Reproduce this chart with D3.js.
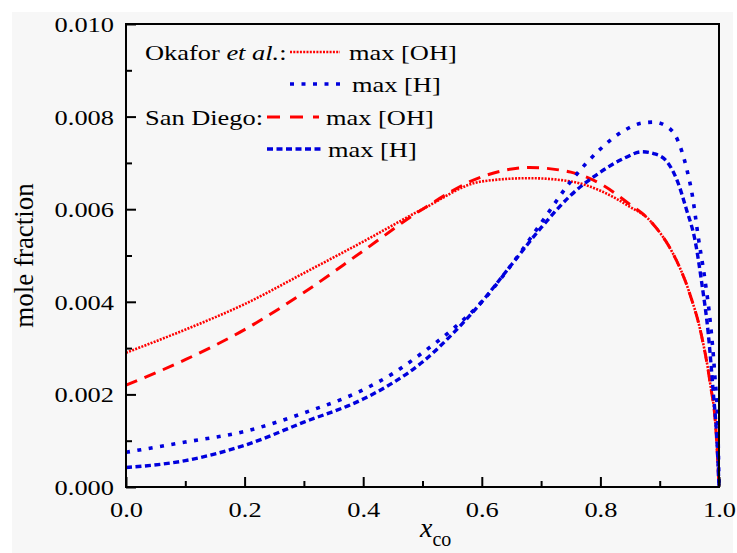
<!DOCTYPE html>
<html>
<head>
<meta charset="utf-8">
<script src="https://cdn.jsdelivr.net/npm/d3@7/dist/d3.min.js"></script>
<style>
body { margin: 0; background: #fff; }
text { font-family: "Liberation Serif", "Times New Roman", serif; fill: #000; }
</style>
</head>
<body>
<script>
//values (x = mole fraction of CO)
var xOkaforOH = [0, 0.1, 0.2, 0.3, 0.4, 0.5, 0.6, 0.68, 0.75, 0.8, 0.85, 0.88, 0.9, 0.92, 0.95, 0.97, 0.985, 0.995, 1.0];
var yOkaforOH = [0.0029, 0.0034, 0.00395, 0.00462, 0.0053, 0.0060, 0.0066, 0.00667, 0.0066, 0.0064, 0.00605, 0.0058, 0.0055, 0.0051, 0.0042, 0.0033, 0.00225, 0.0012, 0.0];

var xOkaforH = [0, 0.1, 0.2, 0.3, 0.4, 0.45, 0.5, 0.55, 0.6, 0.65, 0.7, 0.75, 0.8, 0.84, 0.87, 0.89, 0.91, 0.93, 0.945, 0.955, 0.965, 0.976, 0.985, 0.993, 0.998, 1.0];
var yOkaforH = [0.00075, 0.00097, 0.0012, 0.0016, 0.0021, 0.00245, 0.0029, 0.0034, 0.0040, 0.0048, 0.0057, 0.0066, 0.0073, 0.0077, 0.00786, 0.00788, 0.0078, 0.0075, 0.0069, 0.0063, 0.0054, 0.0045, 0.0036, 0.0024, 0.0013, 0.0];

var xSanDiegoOH = [0, 0.1, 0.2, 0.3, 0.4, 0.5, 0.6, 0.68, 0.75, 0.8, 0.85, 0.88, 0.9, 0.92, 0.95, 0.97, 0.985, 0.995, 1.0];
var ySanDiegoOH = [0.0022, 0.00275, 0.0034, 0.0042, 0.0051, 0.0060, 0.0067, 0.0069, 0.0068, 0.00655, 0.0061, 0.0058, 0.0055, 0.0051, 0.0042, 0.0033, 0.00225, 0.0012, 0.0];

var xSanDiegoH = [0, 0.1, 0.2, 0.3, 0.4, 0.45, 0.5, 0.55, 0.6, 0.65, 0.7, 0.75, 0.8, 0.84, 0.87, 0.89, 0.91, 0.93, 0.945, 0.96, 0.971, 0.982, 0.99, 0.997, 1.0];
var ySanDiegoH = [0.00042, 0.00057, 0.0009, 0.0014, 0.0019, 0.00225, 0.0027, 0.0033, 0.0040, 0.0048, 0.0056, 0.0063, 0.0068, 0.0071, 0.00724, 0.0072, 0.00706, 0.0066, 0.0060, 0.0053, 0.0044, 0.0033, 0.0021, 0.0009, 0.0];

var xTickValues = [0, 0.2, 0.4, 0.6, 0.8, 1.0];
var xMinorValues = [0.1, 0.3, 0.5, 0.7, 0.9];
var yTickValues = [0, 0.002, 0.004, 0.006, 0.008, 0.010];
var yMinorValues = [0.001, 0.003, 0.005, 0.007, 0.009];

drawChart();

function drawChart(){
    var width = 737,
        height = 553;

    //plot frame in pixels
    var left = 126, right = 719, top = 24, bottom = 487;

    var svg = d3.select("body")
        .append("svg")
        .attr("width", width)
        .attr("height", height);

    //light grey paper behind the figure
    svg.append("rect")
        .attr("x", 12).attr("y", 12)
        .attr("width", 721).attr("height", 541)
        .attr("fill", "#f7f7f7");

    var x = d3.scaleLinear().domain([0, 1]).range([left, right]);
    var y = d3.scaleLinear().domain([0, 0.01]).range([bottom, top]);

    //text in the figure is a little wider than normal
    function widen(sel, k){
        sel.each(function(){
            var w = this.getComputedTextLength();
            d3.select(this)
                .attr("textLength", w * k)
                .attr("lengthAdjust", "spacingAndGlyphs");
        });
    }

    //curves
    var series = [
        {xs: xSanDiegoOH, ys: ySanDiegoOH, color: "#ff0000", dash: "12,8", w: 3},
        {xs: xOkaforOH, ys: yOkaforOH, color: "#ff0000", dash: "2,1.3", w: 2.6},
        {xs: xSanDiegoH, ys: ySanDiegoH, color: "#0000dd", dash: "6,3.5", w: 3.4},
        {xs: xOkaforH, ys: yOkaforH, color: "#0000dd", dash: "4,7.5", w: 3.6}
    ];

    var line = d3.line()
        .x(function(d){ return x(d[0]); })
        .y(function(d){ return y(d[1]); })
        .curve(d3.curveMonotoneX);

    svg.selectAll(".curve")
        .data(series)
        .enter()
        .append("path")
        .attr("class", "curve")
        .attr("fill", "none")
        .attr("stroke", function(d){ return d.color; })
        .attr("stroke-width", function(d){ return d.w; })
        .attr("stroke-dasharray", function(d){ return d.dash; })
        .attr("d", function(d){ return line(d3.zip(d.xs, d.ys)); });

    //axes with inward ticks
    var xAxis = svg.append("g")
        .attr("transform", "translate(0," + bottom + ")")
        .call(d3.axisBottom(x).tickValues(xTickValues).tickFormat(d3.format(".1f")).tickSize(-10).tickPadding(14));
    svg.append("g")
        .attr("transform", "translate(0," + bottom + ")")
        .call(d3.axisBottom(x).tickValues(xMinorValues).tickFormat("").tickSize(-6));

    var yAxis = svg.append("g")
        .attr("transform", "translate(" + left + ",0)")
        .call(d3.axisLeft(y).tickValues(yTickValues).tickFormat(d3.format(".3f")).tickSize(-10).tickPadding(12));
    svg.append("g")
        .attr("transform", "translate(" + left + ",0)")
        .call(d3.axisLeft(y).tickValues(yMinorValues).tickFormat("").tickSize(-6));

    svg.selectAll(".domain").remove();
    svg.selectAll(".tick line").attr("stroke", "#000").attr("stroke-width", 2);

    xAxis.selectAll("text").attr("font-size", 22).attr("font-family", null).call(widen, 1.2);
    yAxis.selectAll("text").attr("font-size", 22).attr("font-family", null).attr("dy", "0.34em").call(widen, 1.2);

    //frame
    svg.append("rect")
        .attr("x", left).attr("y", top)
        .attr("width", right - left).attr("height", bottom - top)
        .attr("fill", "none")
        .attr("stroke", "#000")
        .attr("stroke-width", 2);

    //axis titles
    svg.append("text")
        .attr("transform", "translate(33," + ((top + bottom) / 2) + ") rotate(-90)")
        .attr("text-anchor", "middle")
        .attr("font-size", 27)
        .text("mole fraction");

    var xt = svg.append("text")
        .attr("x", 420)
        .attr("y", 537)
        .attr("font-size", 28);
    xt.append("tspan").attr("font-style", "italic").text("x");
    xt.append("tspan").attr("font-size", 20).attr("dy", 9).text("co");

    //legend
    var legendRows = [
        {y: 52, x1: 290, x2: 340, color: "#ff0000", dash: "2,1.3", w: 2.6, label: "max [OH]", lx: 349},
        {y: 84, x1: 290, x2: 343, color: "#0000dd", dash: "4,7.5", w: 3.6, label: "max [H]", lx: 352},
        {y: 117, x1: 267, x2: 319, color: "#ff0000", dash: "13,10", w: 3, label: "max [OH]", lx: 326},
        {y: 149, x1: 267, x2: 322, color: "#0000dd", dash: "6,3.5", w: 3.4, label: "max [H]", lx: 328}
    ];

    svg.selectAll(".legline")
        .data(legendRows)
        .enter()
        .append("line")
        .attr("class", "legline")
        .attr("x1", function(d){ return d.x1; })
        .attr("x2", function(d){ return d.x2; })
        .attr("y1", function(d){ return d.y; })
        .attr("y2", function(d){ return d.y; })
        .attr("stroke", function(d){ return d.color; })
        .attr("stroke-width", function(d){ return d.w; })
        .attr("stroke-dasharray", function(d){ return d.dash; });

    svg.selectAll(".leglabel")
        .data(legendRows)
        .enter()
        .append("text")
        .attr("class", "leglabel")
        .attr("x", function(d){ return d.lx; })
        .attr("y", function(d){ return d.y + 8; })
        .attr("font-size", 22)
        .text(function(d){ return d.label; })
        .call(widen, 1.2);

    var ok = svg.append("text")
        .attr("x", 145).attr("y", 60)
        .attr("font-size", 22);
    ok.append("tspan").text("Okafor ");
    ok.append("tspan").attr("font-style", "italic").text("et al.");
    ok.append("tspan").text(":");
    ok.call(widen, 1.2);

    svg.append("text")
        .attr("x", 145).attr("y", 125)
        .attr("font-size", 22)
        .text("San Diego:")
        .call(widen, 1.2);
}
</script>
</body>
</html>
